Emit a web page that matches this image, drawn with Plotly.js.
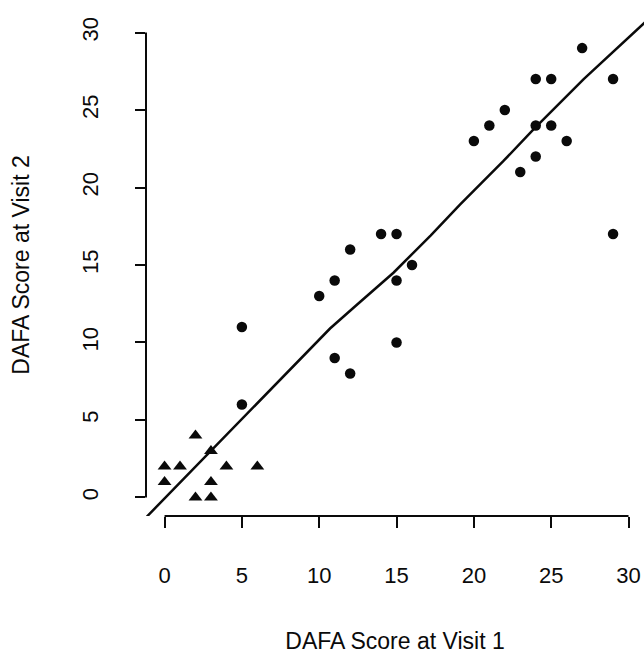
<!DOCTYPE html>
<html>
<head>
<meta charset="utf-8">
<script src="https://cdn.plot.ly/plotly-3.0.1.min.js"></script>
<style>
  html, body { margin: 0; padding: 0; background: #ffffff; }
  #chart { width: 644px; height: 654px; }
</style>
</head>
<body>
<div id="chart"></div>
<script>
// Group 1 (triangles)
const triX = [0, 0, 1, 2, 2, 3, 3, 3, 4, 6];
const triY = [2, 1, 2, 4, 0, 3, 1, 0, 2, 2];
// Group 2 (circles)
const cirX = [5, 5, 10, 11, 11, 12, 12, 14, 15, 15, 15, 16, 20, 21, 22, 23, 24, 24, 24, 25, 25, 26, 27, 29, 29];
const cirY = [11, 6, 13, 14, 9, 16, 8, 17, 17, 14, 10, 15, 23, 24, 25, 21, 27, 24, 22, 27, 24, 23, 29, 27, 17];
// Fitted line
const fitX = [-1.3, 3.0, 5.0, 6.9, 10.7, 12.4, 14.8, 17.2, 19.1, 21.9, 23.9, 27.1, 30.6, 31.1];
const fitY = [-1.4, 3.0, 5.0, 7.0, 10.9, 12.4, 14.5, 16.9, 18.9, 21.7, 23.8, 27.0, 30.25, 30.7];
// Ticks
const xTicks = [0, 5, 10, 15, 20, 25, 30];
const yTicks = [0, 5, 10, 15, 20, 25, 30];
const xTitle = "DAFA Score at Visit 1";
const yTitle = "DAFA Score at Visit 2";

const ink = "#0a0a0a";
const fontFam = "Liberation Sans, Arial, Helvetica, sans-serif";

const traces = [
  {
    x: fitX, y: fitY, type: "scatter", mode: "lines",
    line: { color: ink, width: 2.5 }, hoverinfo: "skip"
  },
  {
    x: triX, y: triY, type: "scatter", mode: "markers",
    marker: { symbol: "triangle-up", size: 12, color: ink, line: { width: 0 } }
  },
  {
    x: cirX, y: cirY, type: "scatter", mode: "markers",
    marker: { symbol: "circle", size: 10.5, color: ink, line: { width: 0 } }
  }
];

const layout = {
  width: 644, height: 654,
  margin: { l: 146, r: 0, t: 14, b: 138 },
  paper_bgcolor: "#ffffff", plot_bgcolor: "#ffffff",
  showlegend: false,
  font: { family: fontFam, color: ink },
  xaxis: {
    range: [-1.2, 31.0],
    tickvals: xTicks, ticktext: xTicks.map(String),
    ticks: "outside", ticklen: 11, tickwidth: 2, tickcolor: ink,
    showline: false, showgrid: false, zeroline: false,
    tickfont: { size: 22, family: fontFam, color: ink },
    ticklabelstandoff: 29,
    title: { text: xTitle, font: { size: 23, family: fontFam, color: ink }, standoff: 53 }
  },
  yaxis: {
    range: [-1.2, 31.2],
    tickvals: yTicks, ticktext: yTicks.map(String),
    ticks: "outside", ticklen: 10, tickwidth: 2, tickcolor: ink,
    showline: false, showgrid: false, zeroline: false,
    tickangle: -90,
    tickfont: { size: 22, family: fontFam, color: ink },
    ticklabelstandoff: 28,
    title: { text: yTitle, font: { size: 23, family: fontFam, color: ink }, standoff: 42 }
  },
  shapes: [
    { type: "line", xref: "x", yref: "paper", x0: xTicks[0], x1: xTicks[xTicks.length - 1], y0: 0, y1: 0,
      line: { color: ink, width: 2 }, layer: "above" },
    { type: "line", xref: "paper", yref: "y", x0: 0, x1: 0, y0: yTicks[0], y1: yTicks[yTicks.length - 1],
      line: { color: ink, width: 2 }, layer: "above" }
  ]
};

Plotly.newPlot("chart", traces, layout, { displayModeBar: false, staticPlot: true });
</script>
</body>
</html>
